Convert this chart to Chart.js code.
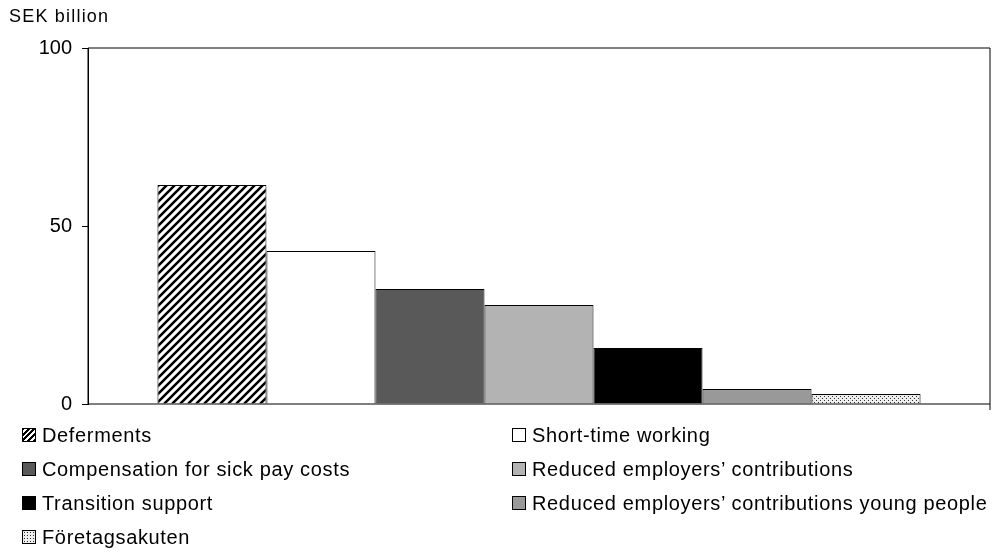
<!DOCTYPE html>
<html><head><meta charset="utf-8">
<script src="https://cdn.jsdelivr.net/npm/chart.js@4"></script>
<style>
body{margin:0;width:992px;height:556px;background:#fff;font-family:"Liberation Sans",Arial,sans-serif;position:relative;overflow:hidden}
#unit{position:absolute;left:9px;top:6px;font-size:18px;color:#000;letter-spacing:1.2px}
#wrap{position:absolute;left:0;top:0;width:992px;height:426px}
#legend{position:absolute;left:22px;top:424px;width:970px;display:grid;grid-template-columns:490px 480px;row-gap:12px;font-size:20px;letter-spacing:0.65px}
.item{display:flex;align-items:center;height:22px;white-space:nowrap}
.sw{width:14px;height:14px;border:1px solid #000;margin-right:6px;box-sizing:border-box;flex:none}
</style></head><body>
<div id="wrap"><canvas id="c" width="992" height="426"></canvas></div>
<div id="unit">SEK billion</div>
<div id="legend"></div>
<script>
const seriesNames = ['Deferments','Short-time working','Compensation for sick pay costs','Reduced employers\u2019 contributions','Transition support','Reduced employers\u2019 contributions young people','F\u00f6retagsakuten'];
const seriesValues = [61.5, 43, 32.3, 27.8, 15.7, 4.2, 2.8];
const yTicks = [0, 50, 100];

function stripes() {
  const p = document.createElement('canvas'); p.width = 8; p.height = 8;
  const g = p.getContext('2d');
  g.fillStyle = '#fff'; g.fillRect(0,0,8,8);
  g.strokeStyle = '#000'; g.lineWidth = 2.6;
  g.beginPath(); g.moveTo(-2,10); g.lineTo(10,-2); g.moveTo(-6,6); g.lineTo(6,-6); g.moveTo(2,14); g.lineTo(14,2); g.stroke();
  return g.createPattern(p,'repeat');
}
function dots() {
  const p = document.createElement('canvas'); p.width = 4; p.height = 4;
  const g = p.getContext('2d');
  g.fillStyle = '#eee'; g.fillRect(0,0,4,4);
  g.fillStyle = '#333'; g.fillRect(0,0,1,1); g.fillRect(2,2,1,1);
  return g.createPattern(p,'repeat');
}
const fills = [stripes(), '#ffffff', '#595959', '#b3b3b3', '#000000', '#999999', dots()];
const swatchCss = ['repeating-linear-gradient(-45deg,#000 0 2px,#fff 2px 4px)','#fff','#595959','#b3b3b3','#000','#999','radial-gradient(#333 0.6px,#eee 0.8px) 0 0/3px 3px'];

const frame = {
  id: 'frame',
  afterDraw(chart) {
    const {ctx, chartArea: a} = chart;
    ctx.save(); ctx.strokeStyle = '#000'; ctx.lineWidth = 1;
    ctx.beginPath();
    ctx.moveTo(a.left, a.bottom); ctx.lineTo(a.left, a.top); ctx.lineTo(a.right, a.top); ctx.lineTo(a.right, a.bottom + 6);
    ctx.moveTo(a.left, a.bottom); ctx.lineTo(a.right, a.bottom);
    ctx.stroke(); ctx.restore();
  }
};

new Chart(document.getElementById('c'), {
  type: 'bar',
  data: {
    labels: [''],
    datasets: seriesNames.map((n, i) => ({
      label: n, data: [seriesValues[i]], backgroundColor: fills[i],
      borderColor: '#000', borderWidth: 1, barPercentage: 1, categoryPercentage: 0.846
    }))
  },
  options: {
    responsive: false, animation: false,
    layout: {padding: {top: 48, right: 2, left: 0, bottom: 0}},
    plugins: {legend: {display: false}, tooltip: {enabled: false}},
    scales: {
      x: {
        ticks: {display: false},
        grid: {display: false}, border: {display: false},
        afterFit(s) { s.height = 16; }
      },
      y: {
        min: 0, max: 100,
        afterBuildTicks(s) { s.ticks = yTicks.map(v => ({value: v})); },
        ticks: {color: '#000', font: {family: 'Liberation Sans', size: 20}, padding: 10},
        grid: {drawOnChartArea: false, tickLength: 6, color: '#000'},
        border: {color: '#000'},
        afterFit(s) { s.width = 88; }
      }
    }
  },
  plugins: [frame]
});

const leg = document.getElementById('legend');
seriesNames.forEach((n, i) => {
  const d = document.createElement('div'); d.className = 'item';
  d.innerHTML = '<span class="sw" style="background:' + swatchCss[i] + '"></span>' + n;
  leg.appendChild(d);
});
</script>
</body></html>
